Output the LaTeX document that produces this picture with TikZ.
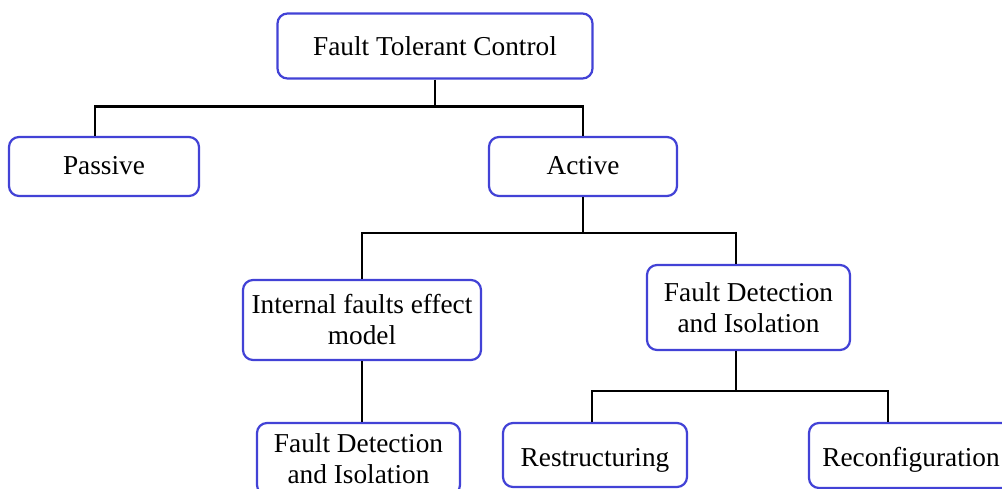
\documentclass[tikz,border=0pt]{standalone}
\usepackage{fontspec}
\setmainfont{Liberation Serif}
\usetikzlibrary{calc}
\definecolor{boxblue}{RGB}{66,66,214}
\begin{document}
\begin{tikzpicture}[x=1pt,y=1pt,
  box/.style={draw=boxblue,line width=2.2pt,rounded corners=10pt,fill=white,align=center,
    inner sep=0pt,font=\fontsize{27.3}{31}\selectfont},
  conn/.style={draw=black,line width=2.4pt}]
\useasboundingbox (0,0) rectangle (1002,-489);
\clip (0,0) rectangle (1002,-489);
\node[box,minimum width=315,minimum height=65] (ftc) at (435,-46) {Fault Tolerant Control};
\node[box,minimum width=190,minimum height=59,text height=22,text depth=5.4] (passive) at (104,-166.5) {Passive};
\node[box,minimum width=188,minimum height=59,text height=22,text depth=5.4] (active) at (583,-166.5) {Active};
\node[box,minimum width=238,minimum height=80] (internal) at (362,-320) {Internal faults effect\\model};
\node[box,minimum width=203,minimum height=85] (fdia) at (748.5,-307.5) {Fault Detection\\and Isolation};
\node[box,minimum width=203,minimum height=72] (fdib) at (358.5,-459) {Fault Detection\\and Isolation};
\node[box,minimum width=184,minimum height=64,text height=28,text depth=5.4] (restr) at (595,-455) {Restructuring};
\node[box,minimum width=204,minimum height=65,text height=28,text depth=5.4] (reconf) at (911,-455.5) {Reconfiguration};
\draw[conn] (ftc.south) -- ++(0,-27) coordinate (j1);
\draw[conn] ([xshift=-9pt]passive.north) |- (j1) -| (active.north);
\draw[conn] (active.south) -- ++(0,-36) coordinate (j2);
\draw[conn] (internal.north) |- (j2) -| ([xshift=-12.5pt]fdia.north);
\draw[conn] (internal.south) -- (internal.south |- fdib.north);
\draw[conn] ([xshift=-12.5pt]fdia.south) -- ++(0,-40) coordinate (j3);
\draw[conn] ([xshift=-3pt]restr.north) |- (j3) -| ([xshift=-23pt]reconf.north);
\end{tikzpicture}
\end{document}
